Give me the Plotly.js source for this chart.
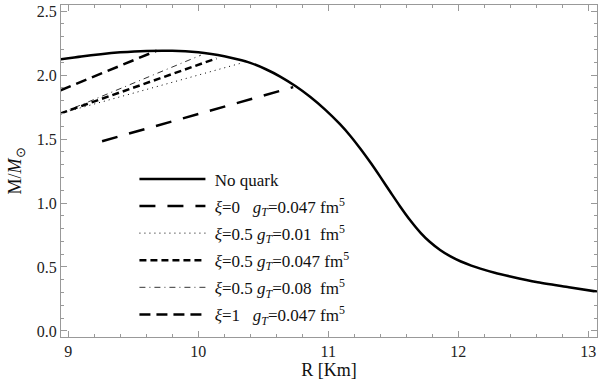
<!DOCTYPE html>
<html>
<head>
<meta charset="utf-8">
<script src="https://cdn.plot.ly/plotly-3.0.1.min.js"></script>
<style>
  html, body { margin: 0; padding: 0; background: #fff; }
  #plot { width: 600px; height: 390px; }
</style>
</head>
<body>
<div id="plot"></div>
<script>
// mass-radius curve without quark core
const noQuarkR = [8.94, 9.1, 9.25, 9.4, 9.6, 9.8, 10.0, 10.1, 10.2, 10.3, 10.4, 10.52, 10.63, 10.75, 10.86, 10.98, 11.09, 11.17, 11.25, 11.33, 11.4, 11.48, 11.55, 11.63, 11.71, 11.78, 11.86, 11.94, 12.02, 12.1, 12.17, 12.28, 12.4, 12.6, 12.85, 13.07];
const noQuarkM = [2.122, 2.145, 2.163, 2.177, 2.188, 2.189, 2.177, 2.164, 2.146, 2.123, 2.095, 2.045, 1.988, 1.912, 1.83, 1.726, 1.616, 1.524, 1.42, 1.308, 1.204, 1.082, 0.977, 0.865, 0.767, 0.697, 0.633, 0.583, 0.543, 0.511, 0.487, 0.455, 0.426, 0.382, 0.342, 0.307];

// hybrid branches (start point, end point on the main curve)
const xi0R = [9.26, 10.73];
const xi0M = [1.483, 1.905];

const xi05g001R = [8.94, 10.32];
const xi05g001M = [1.70, 2.09];

const xi05g0047R = [8.94, 10.14];
const xi05g0047M = [1.70, 2.13];

const xi05g008R = [8.94, 10.02];
const xi05g008M = [1.70, 2.155];

const xi1R = [8.94, 9.68];
const xi1M = [1.88, 2.19];

const names = [
  '&nbsp;No quark<sup>&nbsp;</sup>',
  '&nbsp;<i>ξ</i>=0&nbsp;&nbsp;&nbsp;<i>g<sub>T</sub></i>=0.047 fm<sup>5</sup>',
  '&nbsp;<i>ξ</i>=0.5 <i>g<sub>T</sub></i>=0.01&nbsp;&nbsp;fm<sup>5</sup>',
  '&nbsp;<i>ξ</i>=0.5 <i>g<sub>T</sub></i>=0.047 fm<sup>5</sup>',
  '&nbsp;<i>ξ</i>=0.5 <i>g<sub>T</sub></i>=0.08&nbsp;&nbsp;fm<sup>5</sup>',
  '&nbsp;<i>ξ</i>=1&nbsp;&nbsp;&nbsp;<i>g<sub>T</sub></i>=0.047 fm<sup>5</sup>'
];

const serif = '"Liberation Serif", "Times New Roman", Times, serif';

function line(x, y, name, width, dash, group) {
  return {
    x: x, y: y, name: name, legendgroup: group,
    type: 'scatter', mode: 'lines',
    line: { color: '#000', width: width, dash: dash, shape: 'spline', smoothing: 0.6 }
  };
}

const traces = [
  line(noQuarkR, noQuarkM, names[0], 2.5, 'solid', 'g0'),
  line(xi0R, xi0M, names[1], 2.5, '16px,12px', 'g1'),
  line(xi05g001R, xi05g001M, names[2], 1, '1px,4px', 'g2'),
  line(xi05g0047R, xi05g0047M, names[3], 2.5, '7px,4px', 'g3'),
  line(xi05g008R, xi05g008M, names[4], 0.8, '6px,4px,1px,4px', 'g4'),
  line(xi1R, xi1M, names[5], 2.5, '11px,6px', 'g5')
];

const axisCommon = {
  showgrid: false,
  zeroline: false,
  showline: true,
  linecolor: '#999',
  linewidth: 1,
  mirror: 'ticks',
  ticks: 'inside',
  ticklen: 6,
  tickcolor: '#999',
  tickfont: { family: serif, size: 16, color: '#222' }
};

const layout = {
  width: 600,
  height: 390,
  margin: { l: 61, r: 3, t: 5, b: 53 },
  paper_bgcolor: '#fff',
  plot_bgcolor: '#fff',
  font: { family: serif, color: '#111' },
  showlegend: true,
  legend: {
    x: 0.137, y: 0.529, xanchor: 'left', yanchor: 'top',
    bgcolor: 'rgba(0,0,0,0)',
    font: { family: serif, size: 17, color: '#111' },
    itemwidth: 66,
    tracegroupgap: 2
  },
  xaxis: Object.assign({}, axisCommon, {
    range: [8.944, 13.067],
    tick0: 9, dtick: 1,
    minor: { dtick: 0.2, ticks: 'inside', ticklen: 3, tickcolor: '#999' },
    title: { text: 'R [Km]', font: { family: serif, size: 18, color: '#111' }, standoff: 4 }
  }),
  yaxis: Object.assign({}, axisCommon, {
    range: [-0.047, 2.547],
    tick0: 0, dtick: 0.5,
    tickformat: '.1f',
    minor: { dtick: 0.1, ticks: 'inside', ticklen: 3, tickcolor: '#999' },
    title: { text: 'M/<i>M</i><sub>⊙</sub>', font: { family: serif, size: 18, color: '#111' }, standoff: 10 }
  })
};

Plotly.newPlot('plot', traces, layout, { displayModeBar: false, staticPlot: true });
</script>
</body>
</html>
